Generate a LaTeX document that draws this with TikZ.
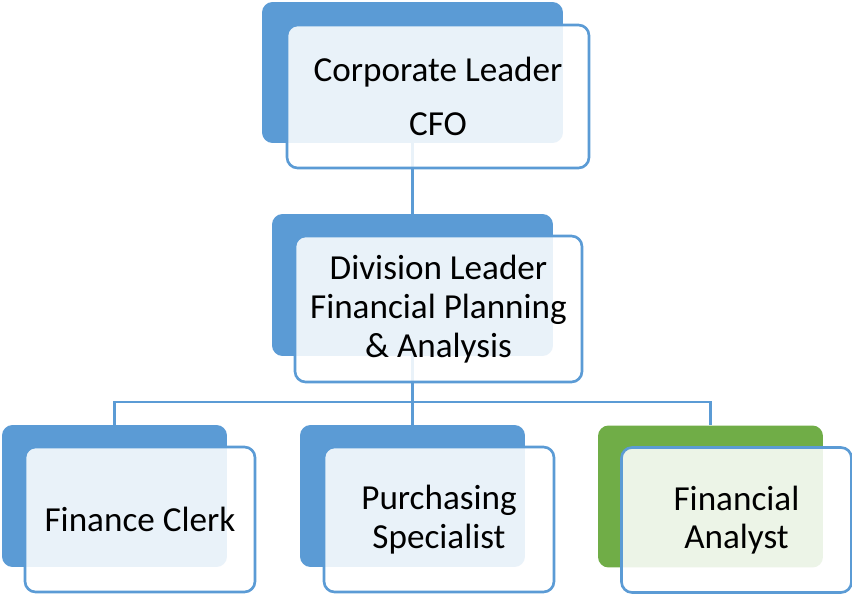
\documentclass[tikz,border=0pt]{standalone}
\usepackage{fontspec}
\setmainfont{Carlito}
\usepackage{xcolor}
\usetikzlibrary{positioning}
\definecolor{officeblue}{RGB}{91,155,213}
\definecolor{officegreen}{RGB}{112,173,71}

\begin{document}
\begin{tikzpicture}[x=0.02cm, y=-0.02cm,
backbox/.style={fill=officeblue, rounded corners=6pt, minimum width=4.5cm, minimum height=2.84cm},
frontbox/.style={draw=officeblue, line width=1.5pt, fill=white, fill opacity=0.87, text opacity=1, rounded corners=6pt, minimum width=4.6cm, minimum height=2.9cm, align=center, font=\fontsize{20}{22}\selectfont},
link/.style={draw=officeblue, line width=1.2pt}
]
\useasboundingbox (0,0) rectangle (852,594);

\node[backbox, minimum width=6.02cm, minimum height=2.82cm] (ceoback) at (412.5,72.5) {};
\node[backbox, minimum width=5.62cm] (divback) at (412.5,285) {};
\node[backbox] (clerkback) at (114.5,496) {};
\node[backbox] (buyerback) at (412.5,496) {};
\node[backbox, fill=officegreen] (analystback) at (710.5,496.5) {};

\coordinate (bus) at (412.5,402);
\draw[link] (ceoback.south) -- (divback.north);
\draw[link] (divback.south) -- (bus);
\draw[link] (clerkback.north) |- (bus);
\draw[link] (analystback.north) |- (bus);
\draw[link] (buyerback.north) -- (bus);

\node[frontbox, minimum width=6.04cm, minimum height=2.86cm] (ceo) at (438,96.5) {Corporate Leader\\[9pt]CFO};
\node[frontbox, minimum width=5.74cm, minimum height=2.92cm] (div) at (438.5,309) {Division Leader\\Financial Planning\\\& Analysis};
\node[frontbox] (clerk) at (140,519.5) {Finance Clerk};
\node[frontbox] (buyer) at (439,519.5) {Purchasing\\Specialist};
\node[frontbox] (analyst) at (736.5,520) {Financial\\Analyst};
\end{tikzpicture}
\end{document}
